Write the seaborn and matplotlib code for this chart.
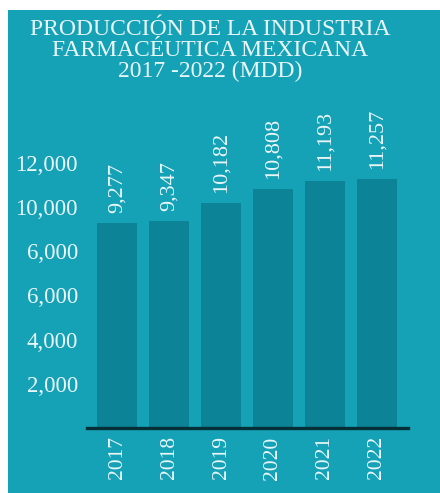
import matplotlib
matplotlib.use("Agg")
import matplotlib.pyplot as plt
import seaborn as sns
import pandas as pd
from matplotlib.patches import Rectangle

# Production of the Mexican pharmaceutical industry (millions of dollars)
years = ["2017", "2018", "2019", "2020", "2021", "2022"]
production = [9277, 9347, 10182, 10808, 11193, 11257]
value_labels = ["9,277", "9,347", "10,182", "10,808", "11,193", "11,257"]
ytick_values = [2000, 4000, 6000, 8000, 10000, 12000]
ytick_labels = ["2,000", "4,000", "6,000", "6,000", "10,000", "12,000"]
title_lines = ["PRODUCCIÓN DE LA INDUSTRIA",
               "FARMACÉUTICA MEXICANA",
               "2017 -2022 (MDD)"]

BG = "#15a2b7"
BAR = "#0c8396"
TXT = "#eaf6f8"
FONT = ["Liberation Serif", "DejaVu Serif"]

sns.set_theme(style="white")
plt.rcParams["font.family"] = FONT

W, H = 440, 493
fig = plt.figure(figsize=(W / 100, H / 100), dpi=100, facecolor="white")

# teal panel behind everything
fig.patches.append(Rectangle((8 / W, 0), 1 - 8 / W, 1 - 10 / H,
                             transform=fig.transFigure, facecolor=BG,
                             edgecolor="none", zorder=-10))

ax = fig.add_axes([87 / W, 65 / H, 321 / W, 288 / H])
ax.set_zorder(5)
ax.set_facecolor("none")

df = pd.DataFrame({"year": years, "value": production})
sns.barplot(data=df, x="year", y="value", color=BAR, saturation=1,
            width=0.77, ax=ax, edgecolor="none")

ax.set_xlim(-0.58, 5.6)
ax.set_ylim(0, 13032)
ax.set_xlabel("")
ax.set_ylabel("")

for s in ["top", "right", "left"]:
    ax.spines[s].set_visible(False)
ax.spines["bottom"].set_color("#062f38")
ax.spines["bottom"].set_linewidth(2.4)

ax.set_yticks(ytick_values)
ax.set_yticklabels(ytick_labels)
ax.tick_params(axis="y", length=0, pad=6.5, labelsize=16.5, labelcolor=TXT)
ax.tick_params(axis="x", length=0, pad=6, labelsize=15.5, labelcolor=TXT,
               labelrotation=90)
for t in ax.get_xticklabels():
    t.set_verticalalignment("top")

for i, (v, lab) in enumerate(zip(production, value_labels)):
    ax.annotate(lab, xy=(i, v), xytext=(0, 10), textcoords="offset pixels",
                rotation=90, ha="center", va="bottom", fontsize=16,
                color=TXT)

title_y = [29.5, 50.5, 71.5]
for line, yp in zip(title_lines, title_y):
    fig.text(210 / W, 1 - yp / H, line, ha="center", va="center",
             fontsize=17, color=TXT)

fig.savefig("out.png", dpi=100, facecolor="white")
